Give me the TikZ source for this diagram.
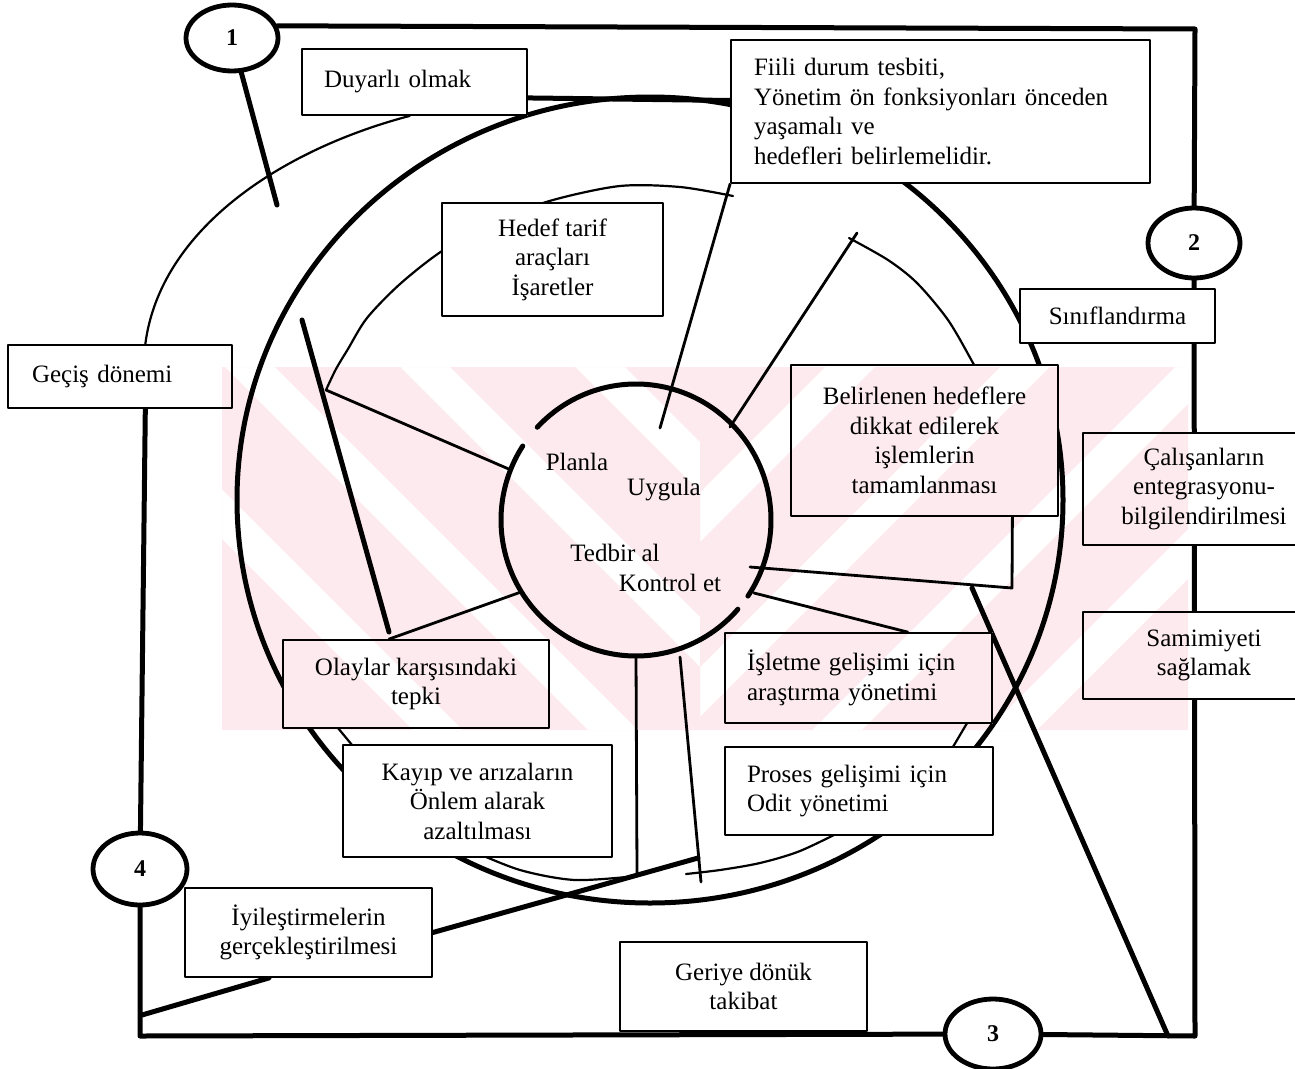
\documentclass[tikz,border=0pt]{standalone}
\usepackage{fontspec}
\setmainfont{Liberation Serif}
\usetikzlibrary{shapes.geometric}
\definecolor{wmpink}{RGB}{253,234,239}

\begin{document}
\begin{tikzpicture}[x=1pt,y=-1pt,
  heavy/.style={line width=5pt},
  spoke/.style={line width=2.8pt},
  fine/.style={line width=2.2pt},
  txt/.style={font=\fontsize{25}{29.5}\selectfont},
  box/.style={txt, draw, line width=1.8pt, inner sep=0pt, align=center},
  lbox/.style={box, align=left},
  numcirc/.style={ellipse, draw, line width=4.8pt, fill=white, inner sep=0pt,
                  font=\fontsize{24}{24}\selectfont\bfseries},
  lbl/.style={txt, inner sep=0pt},
  line cap=round, line join=round]

\useasboundingbox (0,0) rectangle (1295,1068);
\fill[white] (0,0) rectangle (1295,1068);

% faint pink background band with diagonal gaps
\begin{scope}
  \clip (222,367) rectangle (700,730);
  \fill[wmpink, even odd rule] (222,367) rectangle (700,730)
    (50,367) -- (100,367) -- (463,730) -- (413,730) -- cycle
    (225,367) -- (275,367) -- (638,730) -- (588,730) -- cycle
    (400,367) -- (450,367) -- (813,730) -- (763,730) -- cycle
    (575,367) -- (625,367) -- (988,730) -- (938,730) -- cycle;
\end{scope}
\begin{scope}
  \clip (700,367) rectangle (1188,730);
  \fill[wmpink, even odd rule] (700,367) rectangle (1188,730)
    (825,367) -- (875,367) -- (512,730) -- (462,730) -- cycle
    (1000,367) -- (1050,367) -- (687,730) -- (637,730) -- cycle
    (1175,367) -- (1225,367) -- (862,730) -- (812,730) -- cycle
    (1350,367) -- (1400,367) -- (1037,730) -- (987,730) -- cycle;
\end{scope}

% text boxes
\node[lbox, minimum width=225, minimum height=66, text width=181] (duy) at (414.5,82) {Duyarlı olmak};
\node[lbox, minimum width=419, minimum height=143, text width=373] (fiili) at (940.5,111.5)
  {Fiili durum tesbiti,\\Yönetim ön fonksiyonları önceden\\yaşamalı ve\\hedefleri belirlemelidir.};
\node[box, minimum width=221, minimum height=113] (hedef) at (552.5,259.5) {Hedef tarif\\araçları\\İşaretler};
\node[lbox, minimum width=224, minimum height=63, text width=176] (gecis) at (120,376.5) {Geçiş dönemi};
\node[box, minimum width=195, minimum height=54] (sinif) at (1117.5,316) {Sınıflandırma};
\node[box, minimum width=267, minimum height=151] (belir) at (924.5,440.5)
  {Belirlenen hedeflere\\dikkat edilerek\\işlemlerin\\tamamlanması};
\node[box, minimum width=242, minimum height=112] (calis) at (1204,489)
  {Çalışanların\\entegrasyonu-\\bilgilendirilmesi};
\node[box, minimum width=242, minimum height=87] (samim) at (1204,655.5) {Samimiyeti\\sağlamak};
\node[box, minimum width=266, minimum height=88] (olay) at (416,684) {Olaylar karşısındaki\\tepki};
\node[box, minimum width=269, minimum height=112] (kayip) at (477.5,801)
  {Kayıp ve arızaların\\Önlem alarak\\azaltılması};
\node[lbox, minimum width=267, minimum height=90, text width=223] (islet) at (858.5,678)
  {İşletme gelişimi için\\araştırma yönetimi};
\node[lbox, minimum width=268, minimum height=88, text width=224] (proses) at (859,791)
  {Proses gelişimi için\\Odit yönetimi};
\node[box, minimum width=247, minimum height=89] (iyil) at (308.5,932.5)
  {İyileştirmelerin\\gerçekleştirilmesi};
\node[box, minimum width=247, minimum height=89] (geri) at (743.5,986.5) {Geriye dönük\\takibat};

% numbered circles on the frame
\node[numcirc, minimum width=92, minimum height=66] (c1) at (232,38) {1};
\node[numcirc, minimum width=92, minimum height=70] (c2) at (1194,243) {2};
\node[numcirc, minimum width=96, minimum height=70] (c3) at (993,1034) {3};
\node[numcirc, minimum width=94, minimum height=72] (c4) at (140,869) {4};

% central cycle and its labels
\node[ellipse, minimum width=270, minimum height=272, inner sep=0pt] (cyc) at (636,520) {};
\node[lbl] (planla) at (577,462) {Planla};
\node[lbl] (uygula) at (664,490) {Uygula};
\node[lbl] (tedbir) at (615,553) {Tedbir al};
\node[lbl] (kontrol) at (670,583) {Kontrol et};

% frame corners and free line ends
\coordinate (tr) at (1195,29);
\coordinate (br) at (1195,1036);
\coordinate (bl) at (140,1036);
\coordinate (lb) at (142,1015);
\coordinate (e1) at (277,205);
\coordinate (s1) at (660,428);
\coordinate (s2a) at (730,427);
\coordinate (s2b) at (857,233);
\coordinate (s3a) at (511,470);
\coordinate (s3b) at (326,390);
\coordinate (s4a) at (521,592);
\coordinate (s5a) at (302,320);
\coordinate (s5b) at (389,632);
\coordinate (s6a) at (750,567);
\coordinate (s6b) at (1012,588);
\coordinate (s7a) at (754,593);
\coordinate (s8b) at (637,873);
\coordinate (s9a) at (680,657);
\coordinate (s9b) at (701,882);
\coordinate (s9m) at (698,858);
\coordinate (d1) at (972,588);
\coordinate (d2) at (1168,1036);

% everything below stays outside the text boxes
\begin{scope}
\clip (0,0) rectangle (1295,1068)
  (duy.north east) rectangle (duy.south west)
  (fiili.north east) rectangle (fiili.south west)
  (hedef.north east) rectangle (hedef.south west)
  (gecis.north east) rectangle (gecis.south west)
  (sinif.north east) rectangle (sinif.south west)
  (belir.north east) rectangle (belir.south west)
  (calis.north east) rectangle (calis.south west)
  (samim.north east) rectangle (samim.south west)
  (olay.north east) rectangle (olay.south west)
  (kayip.north east) rectangle (kayip.south west)
  (islet.north east) rectangle (islet.south west)
  (proses.north east) rectangle (proses.south west)
  (iyil.north east) rectangle (iyil.south west)
  (geri.north east) rectangle (geri.south west);

% outer frame
\draw[heavy] (c1.15) -- (tr) -- (c2);
\draw[heavy] (c2) -- (br) -- (c3);
\draw[heavy] (c3) -- (bl) -- (c4);
\draw[heavy] (c4) -- (gecis.-52);
\draw[heavy] (c1) -- (e1);

% outer thin arc and top link
\draw[fine] (gecis.52) .. controls (160,230) and (280,150) .. (duy.-98);
\draw[heavy] (duy.-8) -- (fiili.177);

% large ring
\draw[heavy] (650,500) ellipse [x radius=413, y radius=403];

% inner ring pieces
\draw[fine] plot[smooth] coordinates {(326,390) (336,369) (348,349) (367,318) (400,284)
  (442,251) (495,221) (553,200) (620,186) (680,187) (733,196)};
\draw[fine] plot[smooth] coordinates {(849,238) (888,260) (917,283) (948,320) (973,363) (990,395)};
\draw[fine] (973,713) -- (947,757);
\draw[fine] plot[smooth] coordinates {(848,828) (800,851) (760,863) (720,870) (686,874)};
\draw[fine] plot[smooth] coordinates {(470,850) (520,870) (575,880) (637,876)};
\draw[fine] (333,722) -- (357,751);

% central cycle with its two gaps
\draw[heavy] plot[domain=223:394, samples=90, smooth] ({636+135*cos(\x)}, {520+136*sin(\x)});
\draw[heavy] plot[domain=41:213, samples=90, smooth] ({636+135*cos(\x)}, {520+136*sin(\x)});

% spokes
\draw[spoke] (s1) -- (fiili.south west);
\draw[spoke] (s2a) -- (s2b);
\draw[spoke] (s3a) -- (s3b);
\draw[spoke] (s4a) -- (olay.121);
\draw[heavy] (s5a) -- (s5b);
\draw[spoke] (s6a) -- (s6b) -- (belir.-41);
\draw[spoke] (s7a) -- (islet.43.5);
\draw[spoke] (cyc.south) -- (s8b);
\draw[spoke] (s9a) -- (s9b);

% lower links
\draw[heavy] (lb) -- (iyil.-131);
\draw[heavy] (iyil.east) -- (s9m);
\draw[heavy] (d1) -- (d2);
\end{scope}

\end{tikzpicture}
\end{document}
